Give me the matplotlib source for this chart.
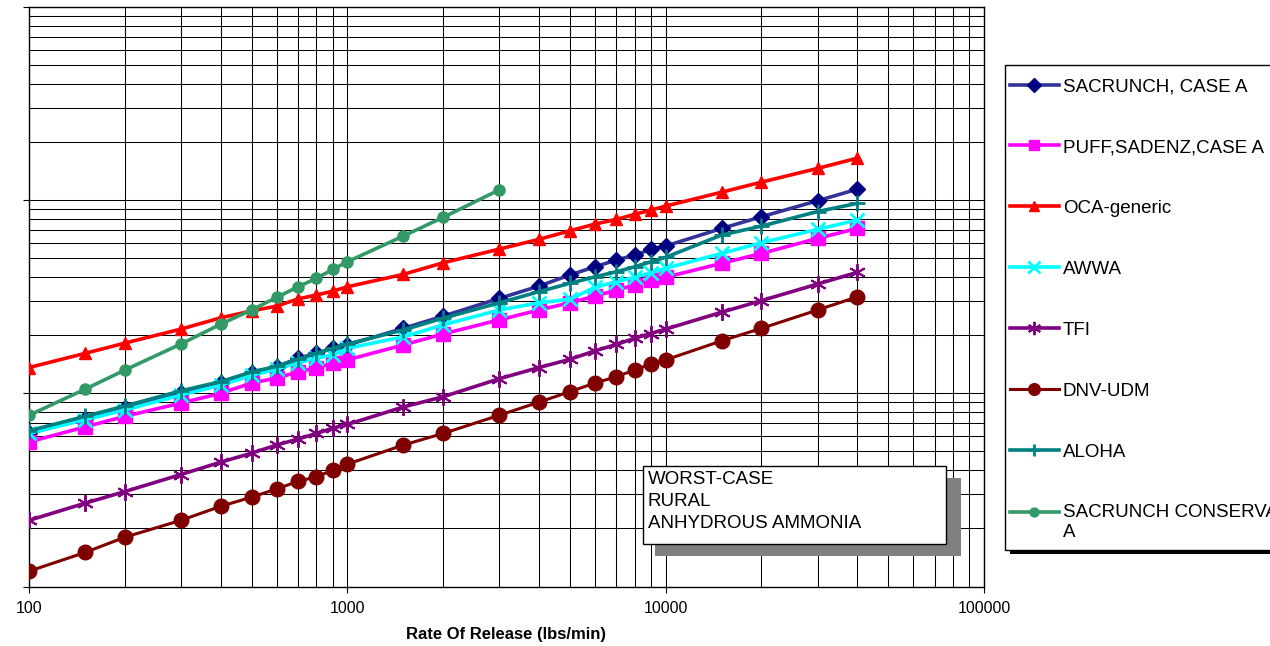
import matplotlib
matplotlib.use("Agg")
import matplotlib.pyplot as plt
from matplotlib.patches import Rectangle

plt.rcParams["font.family"] = ["Liberation Sans", "DejaVu Sans"]

# release rates (lbs/min) shared by every model run
rate = [100, 150, 200, 300, 400, 500, 600, 700, 800, 900, 1000,
        1500, 2000, 3000, 4000, 5000, 6000, 7000, 8000, 9000, 10000,
        15000, 20000, 30000, 40000]
rate_short = rate[:14]  # conservative SACRUNCH run stops at 3000

# endpoint distances per model
sacrunch_case = [0.62, 0.74, 0.84, 1.00, 1.13, 1.27, 1.37, 1.52, 1.61, 1.71, 1.78,
                 2.17, 2.51, 3.10, 3.59, 4.10, 4.52, 4.90, 5.20, 5.56, 5.79,
                 7.14, 8.21, 9.93, 11.4]
puff_sadenz = [0.56, 0.67, 0.76, 0.89, 1.00, 1.13, 1.20, 1.29, 1.36, 1.43, 1.49,
               1.78, 2.03, 2.40, 2.70, 2.94, 3.19, 3.42, 3.64, 3.86, 3.99,
               4.71, 5.30, 6.34, 7.14]
oca_generic = [1.36, 1.61, 1.82, 2.15, 2.46, 2.67, 2.83, 3.08, 3.23, 3.38, 3.56,
               4.13, 4.74, 5.58, 6.27, 6.94, 7.52, 7.95, 8.45, 8.89, 9.32,
               11.0, 12.4, 14.6, 16.5]
awwa = [0.62, 0.73, 0.82, 0.98, 1.10, 1.24, 1.33, 1.44, 1.52, 1.58, 1.71,
        1.96, 2.26, 2.70, 2.94, 3.07, 3.54, 3.78, 3.99, 4.21, 4.44,
        5.30, 6.02, 7.06, 7.89]
tfi = [0.22, 0.27, 0.31, 0.38, 0.44, 0.49, 0.54, 0.58, 0.62, 0.66, 0.69,
       0.85, 0.96, 1.19, 1.36, 1.50, 1.66, 1.79, 1.93, 2.04, 2.15,
       2.63, 3.02, 3.68, 4.23]
dnv_udm = [0.12, 0.15, 0.18, 0.22, 0.26, 0.29, 0.32, 0.35, 0.37, 0.40, 0.43,
           0.54, 0.62, 0.77, 0.90, 1.02, 1.13, 1.22, 1.32, 1.42, 1.49,
           1.87, 2.17, 2.70, 3.16]
aloha = [0.64, 0.76, 0.86, 1.03, 1.15, 1.29, 1.38, 1.50, 1.61, 1.71, 1.80,
         2.13, 2.45, 2.94, 3.36, 3.71, 4.01, 4.26, 4.52, 4.80, 5.06,
         6.60, 7.34, 8.73, 9.63]
sacrunch_cons = [0.77, 1.05, 1.32, 1.80, 2.28, 2.70, 3.14, 3.56, 3.94, 4.38, 4.80,
                 6.52, 8.15, 11.3]

series = [
    ("SACRUNCH, CASE A", rate, sacrunch_case,
     dict(color="#333399", marker="D", mfc="#000080", mec="#000080", ms=8.5)),
    ("PUFF,SADENZ,CASE A", rate, puff_sadenz,
     dict(color="#FF00FF", marker="s", ms=9.5)),
    ("OCA-generic", rate, oca_generic,
     dict(color="#FF0000", marker="^", ms=9)),
    ("AWWA", rate, awwa,
     dict(color="#00FFFF", marker="x", ms=10, mew=2)),
    ("TFI", rate, tfi,
     dict(color="#800080", marker=(6, 2, 0), ms=12, mew=1.4)),
    ("DNV-UDM", rate, dnv_udm,
     dict(color="#800000", marker="o", ms=10.5, lw=2.2)),
    ("ALOHA", rate, aloha,
     dict(color="#008080", marker="+", ms=11, mew=2)),
    ("SACRUNCH CONSERVATIVE\nA", rate_short, sacrunch_cons,
     dict(color="#339966", marker="o", ms=8)),
]

W, H = 1270, 646
fig = plt.figure(figsize=(W / 100, H / 100), dpi=100)
ax = fig.add_axes([29 / W, 1 - 586.5 / H, 955 / W, 579.5 / H])

for label, xs, ys, style in series:
    style.setdefault("lw", 2.6)
    ax.plot(xs, ys, label=label, zorder=3, **style)

ax.set_xscale("log")
ax.set_yscale("log")
ax.set_xlim(100, 100000)
ax.set_ylim(0.1, 100)

ax.grid(True, which="both", color="black", lw=0.75)
ax.set_axisbelow(True)
for sp in ax.spines.values():
    sp.set_color("black")
    sp.set_linewidth(1.0)

ax.tick_params(axis="both", which="major", direction="out", length=4,
               width=0.8, color="black")
ax.tick_params(axis="both", which="minor", length=0)
ax.tick_params(axis="y", labelleft=False)
ax.tick_params(axis="x", labelsize=11.5, pad=6.5)
ax.set_xticks([100, 1000, 10000, 100000])
ax.set_xticklabels(["100", "1000", "10000", "100000"])

ax.set_xlabel("Rate Of Release (lbs/min)", fontsize=12, fontweight="bold")
ax.xaxis.set_label_coords(0.5, -0.0705)

# condition note with drop shadow
ax.add_patch(Rectangle((0.6555, 0.0526), 0.3205, 0.1344, transform=ax.transAxes,
                       facecolor="#808080", edgecolor="none", zorder=5))
ax.add_patch(Rectangle((0.643, 0.0733), 0.317, 0.1347, transform=ax.transAxes,
                       facecolor="white", edgecolor="black", lw=1.0, zorder=6))
ax.text(0.648, 0.199, "WORST-CASE\nRURAL\nANHYDROUS AMMONIA",
        transform=ax.transAxes, ha="left", va="top", fontsize=13.5,
        linespacing=1.38, zorder=7)

# legend box (runs past the right edge) with a black drop shadow
fig.add_artist(Rectangle((1010 / W, 1 - 553.5 / H), 300 / W, 480 / H,
                         transform=fig.transFigure, facecolor="black",
                         edgecolor="none", zorder=3))
fig.add_artist(Rectangle((1005 / W, 1 - 550 / H), 300 / W, 485 / H,
                         transform=fig.transFigure, facecolor="white",
                         edgecolor="black", lw=1.0, zorder=4))

leg = fig.legend(loc="upper left", bbox_to_anchor=(1010 / W, 1 - 78 / H),
                 borderaxespad=0, borderpad=0, labelspacing=2.335,
                 handlelength=2.6, handletextpad=0.21, markerscale=0.8,
                 fontsize=13.5, frameon=False)
leg.set_zorder(5)

# keep the two-line entry's key level with its first line
last = leg.legend_handles[-1]
last.set_ydata([y + 7.5 for y in last.get_ydata()])

fig.savefig("out.png", dpi=100)
